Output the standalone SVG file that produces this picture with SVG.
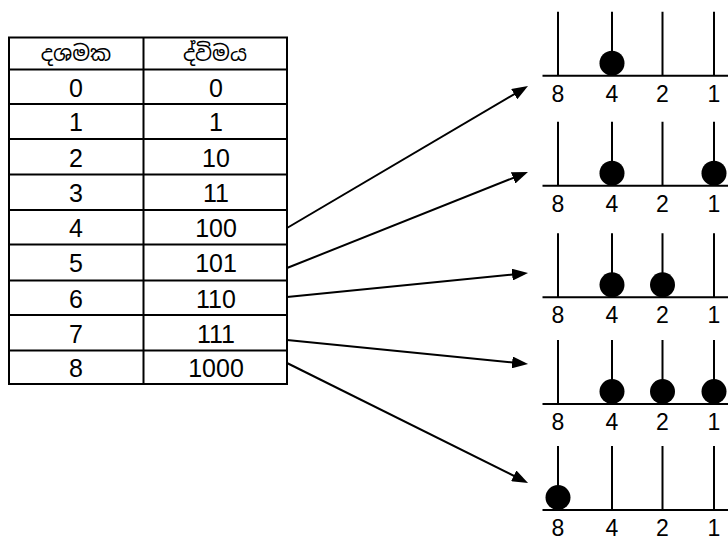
<svg xmlns="http://www.w3.org/2000/svg" width="728" height="540" viewBox="0 0 728 540">
<style>
.ln{stroke:#000;stroke-width:2;fill:none}
.num{font-family:"Liberation Sans","DejaVu Sans",sans-serif;font-size:25px;fill:#000;text-anchor:middle}
.hdr{font-family:"Noto Sans Sinhala","Noto Serif Sinhala","Iskoola Pota","Noto Sans",sans-serif;font-size:21px;fill:#000;text-anchor:middle}
.lab{font-family:"Liberation Sans","DejaVu Sans",sans-serif;font-size:23px;fill:#000;text-anchor:middle}
.bead{fill:#000}
.arr{stroke:#000;stroke-width:2;fill:none;marker-end:url(#ah)}
</style>
<defs>
<marker id="ah" markerUnits="userSpaceOnUse" markerWidth="16" markerHeight="12" refX="6" refY="6" orient="auto" viewBox="0 0 16 12">
<path d="M0,0 L16,6 L0,12 z" fill="#000"/>
</marker>
</defs>
<rect width="728" height="540" fill="#fff"/>
<g id="table">
<rect class="ln" x="9" y="37.5" width="278" height="346.5"/>
<line class="ln" x1="143.5" y1="37.5" x2="143.5" y2="384"/>
<path class="ln" d="M9,69.5H287M9,104H287M9,139H287M9,174.5H287M9,210H287M9,244.5H287M9,280.5H287M9,315H287M9,350.5H287"/>
<text class="hdr" x="76" y="61">දශමක</text>
<text class="hdr" x="215" y="61">ද්විමය</text>
<text class="num" x="76" y="96.5">0</text><text class="num" x="216" y="96.5">0</text>
<text class="num" x="76" y="131">1</text><text class="num" x="216" y="131">1</text>
<text class="num" x="76" y="166.5">2</text><text class="num" x="216" y="166.5">10</text>
<text class="num" x="76" y="202">3</text><text class="num" x="216" y="202">11</text>
<text class="num" x="76" y="237">4</text><text class="num" x="216" y="237">100</text>
<text class="num" x="76" y="272">5</text><text class="num" x="216" y="272">101</text>
<text class="num" x="76" y="307.5">6</text><text class="num" x="216" y="307.5">110</text>
<text class="num" x="76" y="342.5">7</text><text class="num" x="216" y="342.5">111</text>
<text class="num" x="76" y="377">8</text><text class="num" x="216" y="377">1000</text>
</g>
<g id="connectors">
<line class="arr" x1="287" y1="228" x2="519.4" y2="91.1"/>
<line class="arr" x1="287" y1="268" x2="518.7" y2="175.7"/>
<line class="arr" x1="287" y1="297" x2="518.1" y2="274"/>
<line class="arr" x1="287" y1="340" x2="518.1" y2="363"/>
<line class="arr" x1="287" y1="363" x2="519.1" y2="478.5"/>
</g>
<g id="abacus4" transform="translate(0,11.7)">
<path class="ln" d="M558,0V64M612,0V64M662.5,0V64M714,0V64M542.5,64H728"/>
<circle class="bead" cx="612" cy="51.5" r="12.5"/>
<text class="lab" x="558" y="90">8</text><text class="lab" x="612" y="90">4</text><text class="lab" x="662.5" y="90">2</text><text class="lab" x="714" y="90">1</text>
</g>
<g id="abacus5" transform="translate(0,121.7)">
<path class="ln" d="M558,0V64M612,0V64M662.5,0V64M714,0V64M542.5,64H728"/>
<circle class="bead" cx="612" cy="51.5" r="12.5"/>
<circle class="bead" cx="714" cy="51.5" r="12.5"/>
<text class="lab" x="558" y="90">8</text><text class="lab" x="612" y="90">4</text><text class="lab" x="662.5" y="90">2</text><text class="lab" x="714" y="90">1</text>
</g>
<g id="abacus6" transform="translate(0,233.3)">
<path class="ln" d="M558,0V64M612,0V64M662.5,0V64M714,0V64M542.5,64H728"/>
<circle class="bead" cx="612" cy="51.5" r="12.5"/>
<circle class="bead" cx="662.5" cy="51.5" r="12.5"/>
<text class="lab" x="558" y="90">8</text><text class="lab" x="612" y="90">4</text><text class="lab" x="662.5" y="90">2</text><text class="lab" x="714" y="90">1</text>
</g>
<g id="abacus7" transform="translate(0,340)">
<path class="ln" d="M558,0V64M612,0V64M662.5,0V64M714,0V64M542.5,64H728"/>
<circle class="bead" cx="612" cy="51.5" r="12.5"/>
<circle class="bead" cx="662.5" cy="51.5" r="12.5"/>
<circle class="bead" cx="714" cy="51.5" r="12.5"/>
<text class="lab" x="558" y="90">8</text><text class="lab" x="612" y="90">4</text><text class="lab" x="662.5" y="90">2</text><text class="lab" x="714" y="90">1</text>
</g>
<g id="abacus8" transform="translate(0,446)">
<path class="ln" d="M558,0V64M612,0V64M662.5,0V64M714,0V64M542.5,64H728"/>
<circle class="bead" cx="558" cy="51.5" r="12.5"/>
<text class="lab" x="558" y="90">8</text><text class="lab" x="612" y="90">4</text><text class="lab" x="662.5" y="90">2</text><text class="lab" x="714" y="90">1</text>
</g>
</svg>
